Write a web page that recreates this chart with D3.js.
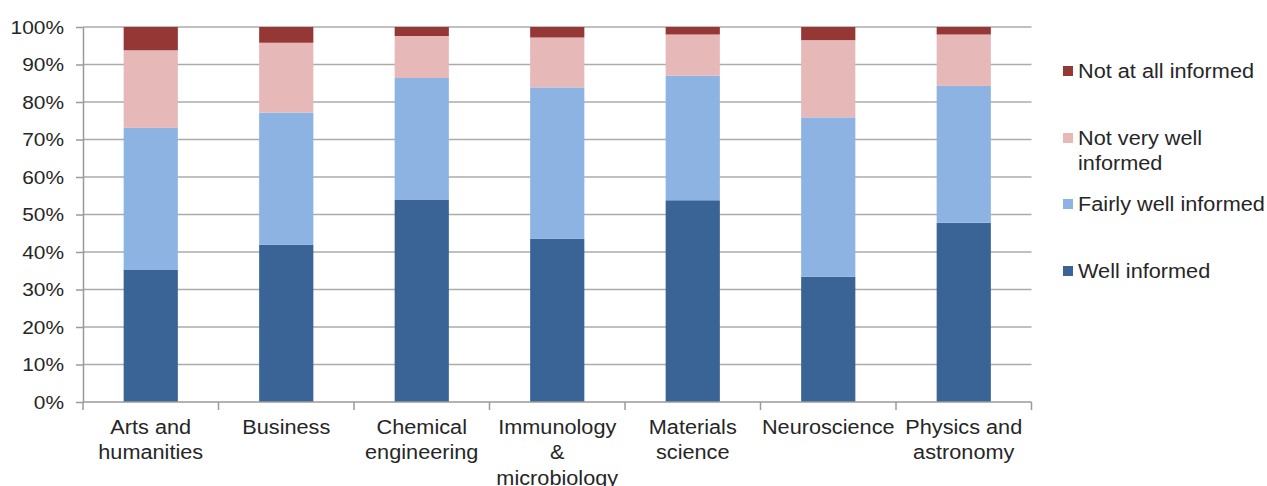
<!DOCTYPE html>
<html>
<head>
<meta charset="utf-8">
<script src="https://cdn.jsdelivr.net/npm/d3@7"></script>
<style>
  html, body { margin: 0; padding: 0; background: #fff; }
  svg { display: block; }
  text { font-family: "Liberation Sans", Arial, sans-serif; fill: #262626; }
</style>
</head>
<body>
<svg id="chart" width="1267" height="486"></svg>
<script>
// Categories (label lines) and share of respondents per answer, in percent
const categories = [
  ["Arts and", "humanities"],
  ["Business"],
  ["Chemical", "engineering"],
  ["Immunology", "&", "microbiology"],
  ["Materials", "science"],
  ["Neuroscience"],
  ["Physics and", "astronomy"]
];
const wellInformed       = [35.2, 41.9, 54.0, 43.5, 53.8, 33.4, 47.8];
const fairlyWellInformed = [37.9, 35.3, 32.4, 40.4, 33.2, 42.5, 36.5];
const notVeryWell        = [20.7, 18.6, 11.2, 13.3, 11.0, 20.6, 13.7];
const notAtAll           = [ 6.2,  4.2,  2.4,  2.8,  2.0,  3.5,  2.0];
const yTicks = [0, 10, 20, 30, 40, 50, 60, 70, 80, 90, 100];

const seriesNames = ["Well informed", "Fairly well informed", "Not very well informed", "Not at all informed"];
const seriesKeys = ["well", "fairly", "notVery", "notAtAll"];
const colors = ["#3A6496", "#8DB3E2", "#E6B8B7", "#953735"];

const rows = categories.map((c, i) => ({
  key: c.join(" "),
  lines: c,
  well: wellInformed[i],
  fairly: fairlyWellInformed[i],
  notVery: notVeryWell[i],
  notAtAll: notAtAll[i]
}));

const svg = d3.select("#chart");
const plotLeft = 83, plotRight = 1031.5, plotTop = 27, plotBottom = 402;

const x = d3.scaleBand()
  .domain(rows.map(d => d.key))
  .range([plotLeft, plotRight])
  .paddingInner(0.6)
  .paddingOuter(0.3);

const y = d3.scaleLinear().domain([0, 100]).range([plotBottom, plotTop]);

const stretch = 1.085;

// Horizontal gridlines
svg.append("g")
  .selectAll("line")
  .data(yTicks.filter(t => t > 0))
  .join("line")
  .attr("x1", plotLeft).attr("x2", plotRight)
  .attr("y1", d => y(d)).attr("y2", d => y(d))
  .attr("stroke", "#ababab")
  .attr("stroke-width", 1.5);

// Stacked bars
const stack = d3.stack().keys(seriesKeys);
const layers = stack(rows);

svg.append("g")
  .selectAll("g")
  .data(layers)
  .join("g")
  .attr("fill", (d, i) => colors[i])
  .selectAll("rect")
  .data(d => d)
  .join("rect")
  .attr("x", d => x(d.data.key))
  .attr("width", x.bandwidth())
  .attr("y", d => y(Math.min(d[1], 100)))
  .attr("height", d => y(d[0]) - y(Math.min(d[1], 100)));

// Y axis
const yAxis = svg.append("g")
  .attr("transform", `translate(${plotLeft},0)`)
  .call(d3.axisLeft(y).tickValues(yTicks).tickFormat(d => d + "%").tickSize(7).tickSizeOuter(0));
yAxis.select(".domain").attr("stroke", "#9a9a9a").attr("stroke-width", 1.5);
yAxis.selectAll(".tick line").attr("stroke", "#9a9a9a").attr("stroke-width", 1.5);
yAxis.selectAll(".tick text")
  .attr("x", -19 / 1.1)
  .attr("dy", "0.34em")
  .attr("transform", "scale(1.1,1)")
  .style("font-size", "19px")
  .style("font-family", "'Liberation Sans', Arial, sans-serif")
  .attr("fill", "#262626");

// X axis line with ticks at category boundaries
svg.append("line")
  .attr("x1", plotLeft).attr("x2", plotRight)
  .attr("y1", plotBottom).attr("y2", plotBottom)
  .attr("stroke", "#9a9a9a").attr("stroke-width", 1.5);

const boundaries = rows.map(d => x(d.key) - x.step() * 0.3).concat([plotRight]);
svg.append("g")
  .selectAll("line")
  .data(boundaries)
  .join("line")
  .attr("x1", d => d).attr("x2", d => d)
  .attr("y1", plotBottom).attr("y2", plotBottom + 8)
  .attr("stroke", "#9a9a9a").attr("stroke-width", 1.5);

// Category labels
const catG = svg.append("g")
  .selectAll("g")
  .data(rows)
  .join("g")
  .attr("transform", d => `translate(${x(d.key) + x.bandwidth() / 2},434) scale(${stretch},1)`);
catG.each(function(d) {
  d3.select(this).selectAll("text")
    .data(d.lines)
    .join("text")
    .attr("text-anchor", "middle")
    .attr("y", (l, i) => i * 25.5)
    .style("font-size", "20px")
    .text(l => l);
});

// Legend, listed top to bottom in reverse stack order
const legendItems = [
  { i: 3, lines: ["Not at all informed"], cy: 71 },
  { i: 2, lines: ["Not very well", "informed"], cy: 138 },
  { i: 1, lines: ["Fairly well informed"], cy: 204 },
  { i: 0, lines: ["Well informed"], cy: 271 }
];
const leg = svg.append("g")
  .selectAll("g")
  .data(legendItems)
  .join("g");
leg.append("rect")
  .attr("x", 1063).attr("y", d => d.cy - 5)
  .attr("width", 10).attr("height", 10)
  .attr("fill", d => colors[d.i]);
leg.each(function(d) {
  d3.select(this).append("g")
    .attr("transform", `translate(1078,${d.cy + 7}) scale(${stretch},1)`)
    .selectAll("text")
    .data(d.lines)
    .join("text")
    .attr("y", (l, k) => k * 25)
    .style("font-size", "20px")
    .text(l => l);
});
</script>
</body>
</html>
